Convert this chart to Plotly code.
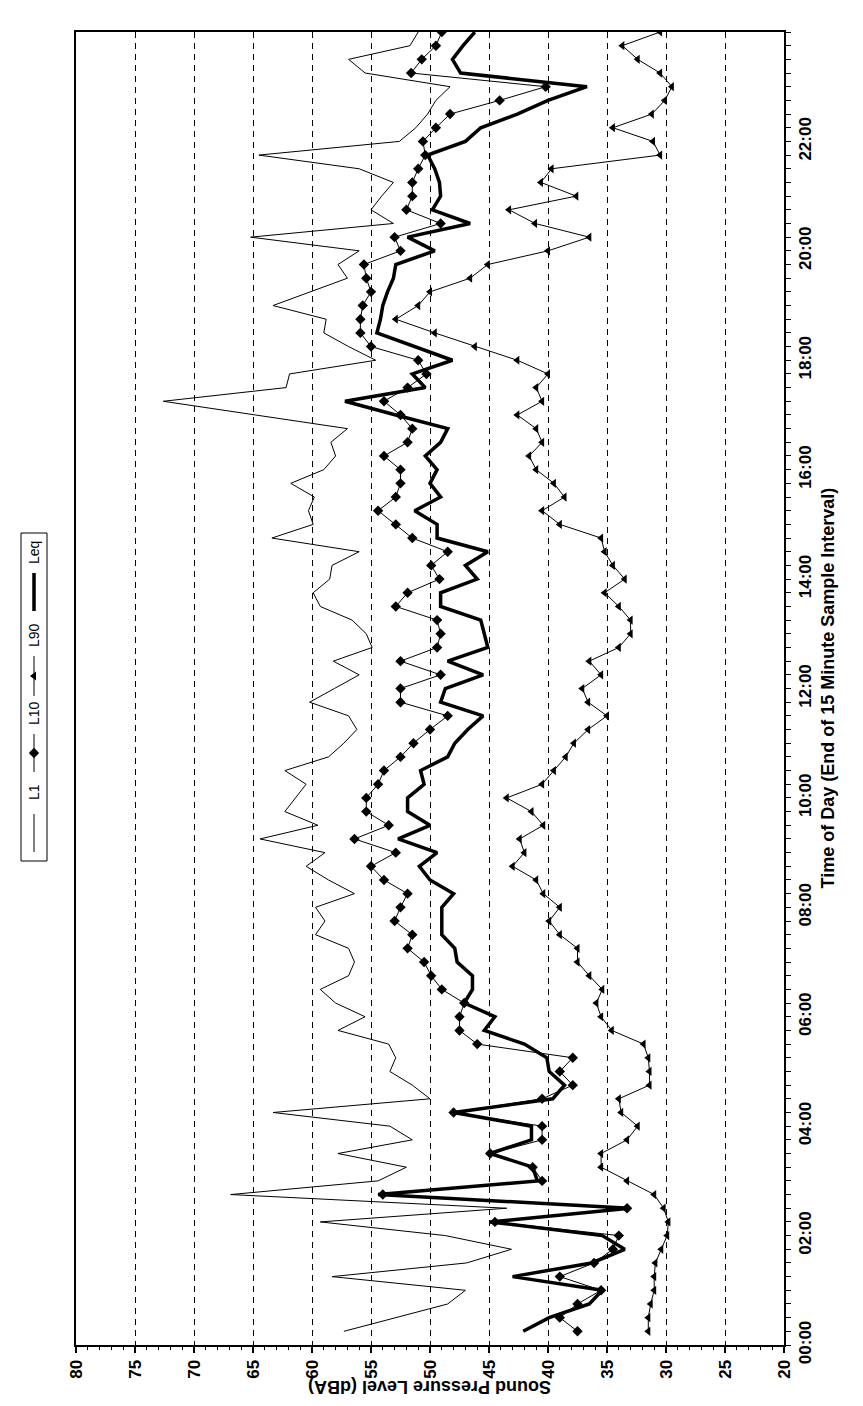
import plotly.graph_objects as go

# ---- data (15-minute intervals, end of interval, 00:15 ... 24:00) ----
interval_end_hours = [0.25 * k for k in range(1, 97)]

L1 = [57.3, 52.9, 48.5, 47.0, 58.3, 46.9, 43.1, 48.7, 59.3, 43.5, 66.9, 54.4,
      52.0, 57.8, 51.5, 53.4, 63.3, 50.0, 51.5, 53.4, 52.9, 53.5, 57.8, 55.5,
      58.0, 59.3, 56.9, 56.4, 56.9, 59.7, 58.9, 59.7, 56.4, 58.6, 60.5, 58.9,
      64.4, 59.5, 62.3, 61.4, 60.5, 62.3, 58.6, 57.3, 56.2, 56.9, 60.2, 58.1,
      56.0, 58.2, 54.9, 55.4, 56.6, 59.3, 59.9, 58.5, 58.3, 56.0, 63.4, 59.9,
      60.3, 59.8, 61.8, 59.0, 58.0, 58.4, 57.0, 64.8, 72.6, 62.2, 61.9, 54.6,
      56.9, 59.0, 58.8, 63.3, 60.1, 57.0, 57.8, 56.0, 65.2, 53.1, 55.0, 54.1,
      53.1, 56.0, 64.5, 52.6, 51.2, 50.2, 49.5, 48.3, 55.5, 56.9, 51.7, 51.0]

L10 = [37.5, 39.0, 37.5, 35.5, 39.0, 36.1, 34.5, 34.0, 44.5, 33.3, 54.0, 40.5,
       41.3, 44.9, 40.5, 40.5, 48.0, 40.5, 37.9, 39.0, 37.9, 46.0, 47.5, 47.5,
       47.1, 49.0, 49.9, 50.5, 51.9, 51.5, 53.0, 52.5, 51.9, 53.9, 55.0, 52.9,
       56.4, 53.5, 55.4, 55.4, 54.4, 53.9, 52.5, 51.4, 50.0, 48.5, 52.5, 52.5,
       49.1, 52.5, 49.4, 49.1, 49.4, 52.9, 51.9, 49.2, 49.9, 48.5, 51.5, 52.9,
       54.4, 52.9, 52.5, 52.5, 53.9, 51.9, 51.5, 52.5, 53.9, 51.9, 50.3, 51.0,
       55.0, 55.9, 55.9, 55.7, 55.0, 55.4, 55.6, 52.5, 53.0, 49.1, 52.0, 51.5,
       51.5, 51.0, 50.4, 50.6, 49.5, 48.3, 44.1, 40.2, 51.6, 50.7, 49.5, 49.0]

L90 = [31.5, 31.5, 31.3, 31.0, 31.0, 30.9, 30.4, 29.9, 29.8, 30.2, 31.0, 33.3,
       35.5, 35.5, 33.3, 32.4, 33.8, 34.0, 31.4, 31.4, 31.5, 31.9, 34.6, 35.5,
       35.9, 35.4, 36.5, 37.5, 37.5, 39.0, 39.9, 39.0, 40.4, 41.0, 43.0, 42.0,
       42.4, 40.4, 41.4, 43.5, 40.5, 39.5, 38.5, 37.8, 36.6, 35.0, 36.6, 37.1,
       35.5, 36.5, 34.0, 33.0, 33.0, 34.0, 35.2, 33.5, 34.5, 35.2, 35.5, 39.0,
       40.5, 38.6, 39.5, 41.0, 41.6, 40.5, 41.0, 42.6, 40.5, 41.0, 40.0, 42.6,
       46.2, 49.6, 52.9, 51.0, 50.0, 46.6, 45.1, 40.0, 36.5, 41.1, 43.3, 37.6,
       40.6, 39.7, 30.5, 31.1, 34.5, 31.2, 30.1, 29.5, 30.5, 32.4, 33.7, 30.5]

Leq = [42.1, 39.9, 36.5, 35.4, 43.0, 36.3, 33.5, 35.4, 44.9, 33.1, 54.4, 40.9,
       41.3, 44.9, 41.4, 41.4, 48.0, 39.6, 38.6, 39.9, 40.1, 42.0, 45.4, 44.5,
       47.1, 46.4, 46.4, 47.7, 47.9, 49.0, 49.0, 49.0, 48.0, 50.0, 50.9, 49.4,
       52.7, 50.0, 51.9, 51.9, 50.5, 50.8, 48.5, 47.9, 46.8, 45.5, 49.1, 48.7,
       45.5, 48.5, 45.1, 45.4, 45.7, 49.1, 49.1, 46.0, 47.0, 45.1, 49.4, 49.4,
       51.3, 49.1, 50.0, 49.4, 50.4, 49.1, 48.5, 52.9, 57.2, 50.4, 51.5, 48.1,
       51.3, 54.5, 54.2, 54.0, 53.6, 53.1, 52.9, 49.6, 51.9, 46.6, 49.8, 49.1,
       49.2, 49.6, 50.2, 47.0, 45.7, 42.6, 40.0, 36.7, 47.4, 48.1, 47.2, 46.2]

time_tick_vals = [0, 2, 4, 6, 8, 10, 12, 14, 16, 18, 20, 22, 24]
time_tick_text = ["00:00", "02:00", "04:00", "06:00", "08:00", "10:00", "12:00",
                  "14:00", "16:00", "18:00", "20:00", "22:00", "00:00"]
level_tick_vals = [80, 75, 70, 65, 60, 55, 50, 45, 40, 35, 30, 25, 20]

# ---- layout geometry ----
W, H = 863, 1406
PX0, PX1 = 68, 776      # plot left / right (px)
PY0, PY1 = 24, 1337     # plot top / bottom (px)

FONT = "Liberation Sans, Arial, sans-serif"
TICKFONT = dict(family=FONT, size=17, color="black", weight="bold")
TITLEFONT = dict(family=FONT, size=18, color="black", weight="bold")

fig = go.Figure()

fig.add_trace(go.Scatter(x=L1, y=interval_end_hours, mode="lines", name="L1",
                         line=dict(color="black", width=1)))
fig.add_trace(go.Scatter(x=L10, y=interval_end_hours, mode="lines+markers", name="L10",
                         line=dict(color="black", width=1),
                         marker=dict(symbol="diamond", size=8, color="black")))
fig.add_trace(go.Scatter(x=L90, y=interval_end_hours, mode="lines+markers", name="L90",
                         line=dict(color="black", width=1),
                         marker=dict(symbol="triangle-left", size=8, color="black")))
fig.add_trace(go.Scatter(x=Leq, y=interval_end_hours, mode="lines", name="Leq",
                         line=dict(color="black", width=3.5)))

# ---- custom rotated legend (pixel-space helper axes) ----
leg_x = 26
legend_items = [
    # name, line y0, line y1, text y, marker symbol, line width
    ("L1", 806, 844, 784, None, 1),
    ("L10", 726, 764, 705, "diamond", 1),
    ("L90", 648, 688, 627, "triangle-left", 1),
    ("Leq", 565, 603, 545, None, 3.5),
]
for name, y0, y1, ty, sym, lw in legend_items:
    fig.add_trace(go.Scatter(x=[leg_x, leg_x], y=[y0, y1], mode="lines",
                             line=dict(color="black", width=lw),
                             xaxis="x2", yaxis="y2", hoverinfo="skip"))
    if sym:
        fig.add_trace(go.Scatter(x=[leg_x], y=[(y0 + y1) / 2], mode="markers",
                                 marker=dict(symbol=sym, size=8, color="black"),
                                 xaxis="x2", yaxis="y2", hoverinfo="skip"))

annotations = []
for name, y0, y1, ty, sym, lw in legend_items:
    annotations.append(dict(x=leg_x, y=ty, xref="x2", yref="y2", text=name,
                            showarrow=False, textangle=-90,
                            font=dict(family=FONT, size=14, color="black")))

annotations.append(dict(x=(PX0 + PX1) / 2 / W, y=1 - 1391 / H, xref="paper", yref="paper",
                        text="Sound Pressure Level (dBA)", showarrow=False,
                        textangle=180, font=TITLEFONT))
annotations.append(dict(x=832 / W, y=1 - ((PY0 + PY1) / 2) / H, xref="paper", yref="paper",
                        text="Time of Day (End of 15 Minute Sample Interval)",
                        showarrow=False, textangle=-90, font=TITLEFONT))

shapes = [dict(type="rect", xref="x2", yref="y2", x0=13, x1=39, y0=525, y1=853,
               line=dict(color="black", width=1), fillcolor="rgba(0,0,0,0)")]

fig.update_layout(
    width=W, height=H, autosize=False,
    margin=dict(l=0, r=0, t=0, b=0),
    paper_bgcolor="white", plot_bgcolor="white",
    showlegend=False,
    annotations=annotations,
    shapes=shapes,
    xaxis=dict(
        domain=[PX0 / W, PX1 / W], anchor="y",
        range=[80, 20], tickvals=level_tick_vals, tickangle=-90,
        tickfont=TICKFONT, showgrid=True, gridcolor="black", gridwidth=1,
        griddash="6px,5px", zeroline=False,
        showline=True, linecolor="black", linewidth=2, mirror=True,
        ticks="outside", ticklen=6, tickwidth=1.5, tickcolor="black",
        minor=dict(dtick=1, ticks="outside", ticklen=3, tickcolor="black",
                   tickwidth=1, showgrid=False),
        automargin=False,
    ),
    yaxis=dict(
        domain=[1 - PY1 / H, 1 - PY0 / H], anchor="x", side="right",
        range=[0, 24], tickvals=time_tick_vals, ticktext=time_tick_text,
        tickangle=-90, tickfont=TICKFONT, showgrid=False, zeroline=False,
        showline=True, linecolor="black", linewidth=1.5, mirror=True,
        ticks="outside", ticklen=5, tickwidth=1, tickcolor="black",
        minor=dict(dtick=0.25, ticks="outside", ticklen=5, tickcolor="black",
                   tickwidth=1, showgrid=False),
        automargin=False,
    ),
    xaxis2=dict(domain=[0, (PX0 - 1) / W], range=[0, PX0 - 1], anchor="y2",
                visible=False, fixedrange=True),
    yaxis2=dict(domain=[0, 1], range=[H, 0], anchor="x2", visible=False,
                fixedrange=True),
)

fig.write_html("out.html")
